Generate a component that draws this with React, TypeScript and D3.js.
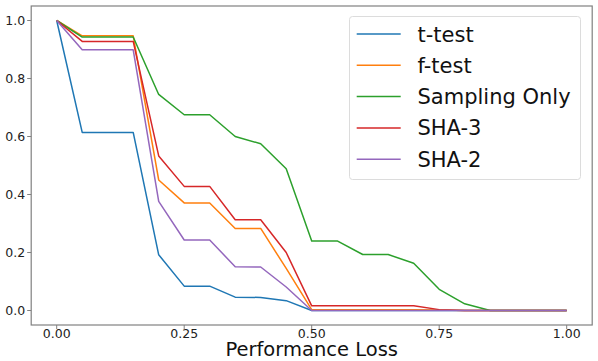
import React from "react";
import * as d3 from "d3";

const xValues = [0, 0.05, 0.1, 0.15, 0.2, 0.25, 0.3, 0.35, 0.4, 0.45, 0.5, 0.55, 0.6, 0.65, 0.7, 0.75, 0.8, 0.85, 0.9, 0.95, 1.0];

const tTest = [1.0, 0.614, 0.614, 0.614, 0.192, 0.084, 0.084, 0.046, 0.045, 0.034, 0.0, 0, 0, 0, 0, 0, 0, 0, 0, 0, 0];
const fTest = [1.0, 0.947, 0.947, 0.947, 0.45, 0.371, 0.371, 0.283, 0.283, 0.145, 0.003, 0.003, 0.003, 0.003, 0.003, 0.002, 0, 0, 0, 0, 0];
const samplingOnly = [1.0, 0.943, 0.943, 0.943, 0.745, 0.675, 0.675, 0.6, 0.575, 0.489, 0.24, 0.24, 0.193, 0.193, 0.163, 0.073, 0.023, 0, 0, 0, 0];
const sha3 = [1.0, 0.928, 0.928, 0.928, 0.533, 0.428, 0.428, 0.313, 0.313, 0.2, 0.016, 0.016, 0.016, 0.016, 0.016, 0.003, 0, 0, 0, 0, 0];
const sha2 = [1.0, 0.899, 0.899, 0.899, 0.376, 0.243, 0.243, 0.151, 0.15, 0.081, 0.0, 0, 0, 0, 0, 0, 0, 0, 0, 0, 0];

const seriesNames = ["t-test", "f-test", "Sampling Only", "SHA-3", "SHA-2"];
const seriesValues = [tTest, fTest, samplingOnly, sha3, sha2];
const colors = ["#1f77b4", "#ff7f0e", "#2ca02c", "#d62728", "#9467bd"];

const xTicks = [0, 0.25, 0.5, 0.75, 1.0];
const xTickLabels = ["0.00", "0.25", "0.50", "0.75", "1.00"];
const yTicks = [0, 0.2, 0.4, 0.6, 0.8, 1.0];
const yTickLabels = ["0.0", "0.2", "0.4", "0.6", "0.8", "1.0"];
const xLabel = "Performance Loss";

export default function App() {
  const W = 598, H = 361;
  const left = 31.2, right = 592.2, top = 6, bottom = 325;
  const x = d3.scaleLinear().domain([-0.05, 1.05]).range([left, right]);
  const y = d3.scaleLinear().domain([-0.05, 1.05]).range([bottom, top]);
  const line = d3.line<number>().x((_, i) => x(xValues[i])).y((d) => y(d));
  const font = "DejaVu Sans, sans-serif";
  const spine = "#808080";

  const lgX = 349.5, lgY = 16.5, lgW = 231, lgH = 163, rowH = 31.3, row0 = 34;

  return (
    <svg width={W} height={H} style={{ position: "absolute", left: 0, top: 0 }} fontFamily={font}>
      <rect width={W} height={H} fill="white" />
      {seriesValues.map((vals, i) => (
        <path key={i} d={line(vals) || ""} fill="none" stroke={colors[i]} strokeWidth={1.5} strokeLinejoin="round" />
      ))}
      <rect x={left} y={top} width={right - left} height={bottom - top} fill="none" stroke={spine} strokeWidth={1.2} />
      {xTicks.map((t, i) => (
        <g key={i}>
          <line x1={x(t)} x2={x(t)} y1={bottom} y2={bottom + 4} stroke={spine} />
          <text x={x(t)} y={bottom + 13} fontSize={12.5} textAnchor="middle" fill="#222">{xTickLabels[i]}</text>
        </g>
      ))}
      {yTicks.map((t, i) => (
        <g key={i}>
          <line x1={left - 4} x2={left} y1={y(t)} y2={y(t)} stroke={spine} />
          <text x={left - 6} y={y(t)} dy="0.36em" fontSize={12.5} textAnchor="end" fill="#222">{yTickLabels[i]}</text>
        </g>
      ))}
      <text x={(left + right) / 2} y={356} fontSize={19.5} textAnchor="middle" fill="#111">{xLabel}</text>
      <rect x={lgX} y={lgY} width={lgW} height={lgH} rx={3} fill="white" fillOpacity={0.8} stroke="#dcdcdc" />
      {seriesNames.map((n, i) => (
        <g key={i}>
          <line x1={356.7} x2={400.7} y1={row0 + i * rowH} y2={row0 + i * rowH} stroke={colors[i]} strokeWidth={1.5} />
          <text x={417.5} y={row0 + i * rowH} dy="0.36em" fontSize={21} fill="#111">{n}</text>
        </g>
      ))}
    </svg>
  );
}
